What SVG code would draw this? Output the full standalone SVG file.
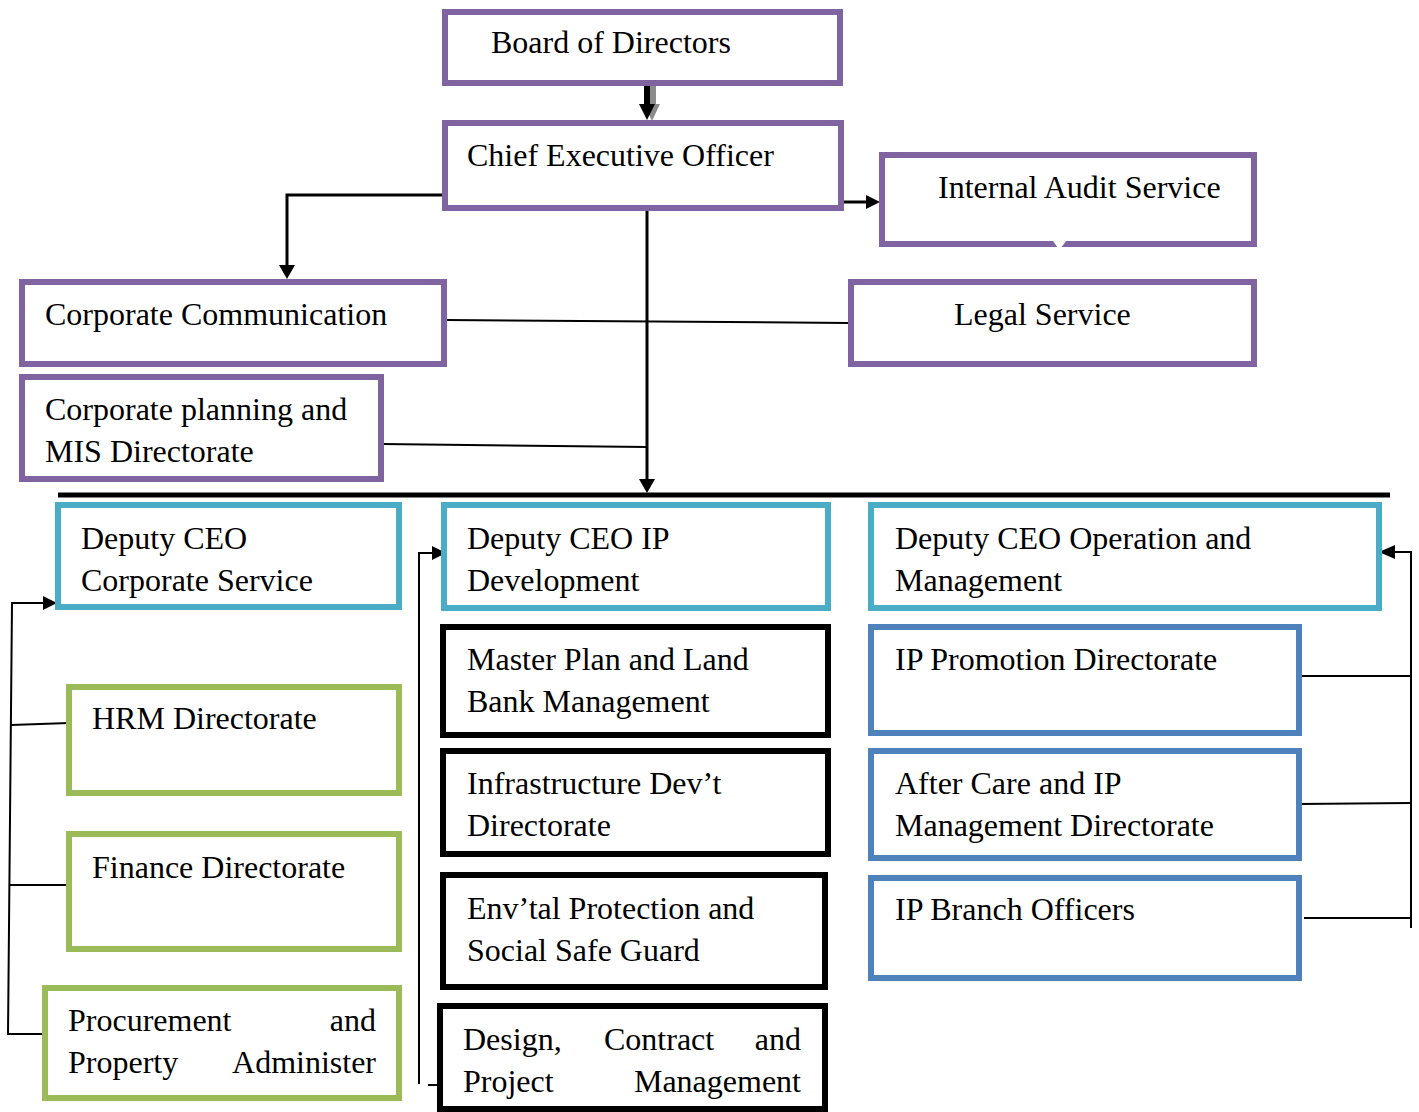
<svg xmlns="http://www.w3.org/2000/svg" width="1419" height="1112" viewBox="0 0 1419 1112">
  <style>
    text { font-family: "Liberation Serif", "Times New Roman", serif; font-size: 32px; fill: #000; }
    .box { fill: #fff; stroke-width: 6; }
    .purple { stroke: #8064A2; }
    .cyan { stroke: #4BACC6; }
    .green { stroke: #9BBB59; }
    .blue { stroke: #4F81BD; }
    .black { stroke: #000; }
    .line { fill: none; stroke: #000; stroke-width: 2; }
    .thick { fill: none; stroke: #000; stroke-width: 3; }
    .head { fill: #000; }
  </style>

  <!-- connectors -->
  <g id="connectors">
    <!-- Board to CEO: heavy arrow with grey shadow -->
    <polygon points="650,85 656,85 656,104 660,104 652,121 644,104 650,104" fill="#8c8c8c"/>
    <polygon points="644,84 650,84 650,104 655,104 647,120 639,104 644,104" class="head"/>
    <!-- CEO to Internal Audit -->
    <line x1="843" y1="202" x2="868" y2="202" class="thick"/>
    <polygon points="866,195 880,202 866,209" class="head"/>
    <!-- CEO to Corporate Communication -->
    <polyline points="442,195 287,195 287,266" class="thick"/>
    <polygon points="279,265 295,265 287,279" class="head"/>
    <!-- CEO down to the deputy bar -->
    <line x1="647" y1="210" x2="647" y2="480" class="thick"/>
    <polygon points="639,479 655,479 647,493" class="head"/>
    <!-- Corporate Communication to Legal Service -->
    <line x1="446" y1="320" x2="849" y2="323" class="line"/>
    <!-- Corporate planning to trunk -->
    <line x1="382" y1="444" x2="647" y2="447" class="line"/>
    <!-- deputy bar -->
    <line x1="58" y1="495" x2="1390" y2="495" stroke="#000" stroke-width="5"/>

    <!-- Corporate Service bracket -->
    <polyline points="43,1034 8,1034 12,603 44,603" class="line"/>
    <polygon points="43,596 57,603 43,610" class="head"/>
    <line x1="11" y1="725" x2="69" y2="723" class="line"/>
    <line x1="10" y1="885" x2="67" y2="885" class="line"/>

    <!-- IP Development bracket -->
    <polyline points="419,1084 419,553 433,553" class="line"/>
    <polygon points="432,546 446,553 432,560" class="head"/>
    <line x1="428" y1="1085" x2="441" y2="1085" class="line"/>

    <!-- Operation and Management bracket -->
    <polyline points="1411,928 1411,552 1394,552" class="line"/>
    <polygon points="1395,545 1379,552 1395,559" class="head"/>
    <line x1="1293" y1="676" x2="1411" y2="676" class="line"/>
    <line x1="1299" y1="804" x2="1411" y2="803" class="line"/>
    <line x1="1304" y1="918" x2="1411" y2="918" class="line"/>
  </g>

  <!-- top management -->
  <g id="board">
    <rect x="445" y="12" width="395" height="71" class="box purple"/>
    <text x="491" y="53">Board of Directors</text>
  </g>
  <g id="ceo">
    <rect x="445" y="123" width="396" height="85" class="box purple"/>
    <text x="467" y="166">Chief Executive Officer</text>
  </g>
  <g id="internal-audit">
    <rect x="882" y="155" width="372" height="89" class="box purple"/>
    <polygon points="1053,241 1066,241 1061,248 1058,248" fill="#fff"/>
    <text x="938" y="198">Internal Audit Service</text>
  </g>
  <g id="corporate-communication">
    <rect x="22" y="282" width="422" height="82" class="box purple"/>
    <text x="45" y="325">Corporate Communication</text>
  </g>
  <g id="legal-service">
    <rect x="851" y="282" width="403" height="82" class="box purple"/>
    <text x="954" y="325">Legal Service</text>
  </g>
  <g id="corporate-planning">
    <rect x="22" y="377" width="359" height="102" class="box purple"/>
    <text x="45" y="420">Corporate planning and</text>
    <text x="45" y="462">MIS Directorate</text>
  </g>

  <!-- deputies -->
  <g id="deputy-corporate">
    <rect x="58" y="505" width="341" height="102" class="box cyan"/>
    <text x="81" y="549">Deputy CEO</text>
    <text x="81" y="591">Corporate Service</text>
  </g>
  <g id="deputy-ip">
    <rect x="444" y="505" width="384" height="103" class="box cyan"/>
    <text x="467" y="549">Deputy CEO IP</text>
    <text x="467" y="591">Development</text>
  </g>
  <g id="deputy-operation">
    <rect x="871" y="505" width="508" height="103" class="box cyan"/>
    <text x="895" y="549">Deputy CEO Operation and</text>
    <text x="895" y="591">Management</text>
  </g>

  <!-- corporate service directorates -->
  <g id="hrm">
    <rect x="69" y="687" width="330" height="106" class="box green"/>
    <text x="92" y="729">HRM Directorate</text>
  </g>
  <g id="finance">
    <rect x="69" y="834" width="330" height="115" class="box green"/>
    <text x="92" y="878">Finance Directorate</text>
  </g>
  <g id="procurement">
    <rect x="45" y="988" width="354" height="110" class="box green"/>
    <text x="68" y="1031">Procurement</text>
    <text x="376" y="1031" text-anchor="end">and</text>
    <text x="68" y="1073">Property</text>
    <text x="376" y="1073" text-anchor="end">Administer</text>
  </g>

  <!-- IP development directorates -->
  <g id="master-plan">
    <rect x="443" y="627" width="385" height="108" class="box black"/>
    <text x="467" y="670">Master Plan and Land</text>
    <text x="467" y="712">Bank Management</text>
  </g>
  <g id="infrastructure">
    <rect x="443" y="751" width="385" height="103" class="box black"/>
    <text x="467" y="794">Infrastructure Dev’t</text>
    <text x="467" y="836">Directorate</text>
  </g>
  <g id="environment">
    <rect x="443" y="875" width="382" height="112" class="box black"/>
    <text x="467" y="919">Env’tal Protection and</text>
    <text x="467" y="961">Social Safe Guard</text>
  </g>
  <g id="design">
    <rect x="440" y="1006" width="385" height="103" class="box black"/>
    <text x="463" y="1050">Design,</text>
    <text x="604" y="1050">Contract</text>
    <text x="801" y="1050" text-anchor="end">and</text>
    <text x="463" y="1092">Project</text>
    <text x="801" y="1092" text-anchor="end">Management</text>
  </g>

  <!-- operation directorates -->
  <g id="ip-promotion">
    <rect x="871" y="627" width="428" height="106" class="box blue"/>
    <text x="895" y="670">IP Promotion Directorate</text>
  </g>
  <g id="after-care">
    <rect x="871" y="751" width="428" height="107" class="box blue"/>
    <text x="895" y="794">After Care and IP</text>
    <text x="895" y="836">Management Directorate</text>
  </g>
  <g id="ip-branch">
    <rect x="871" y="878" width="428" height="100" class="box blue"/>
    <text x="895" y="920">IP Branch Officers</text>
  </g>
</svg>
